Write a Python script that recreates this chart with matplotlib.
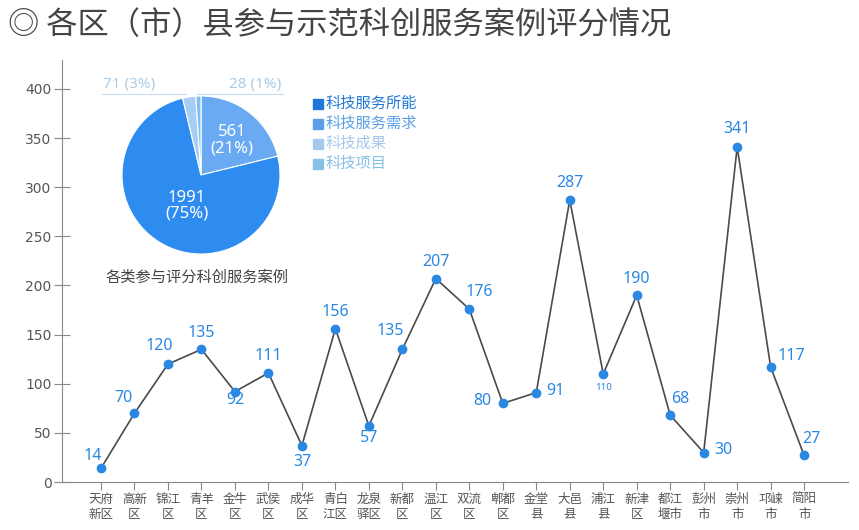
import matplotlib
matplotlib.use("Agg")
import matplotlib.pyplot as plt
import numpy as np

plt.rcParams['font.family'] = ['Noto Sans CJK SC', 'DejaVu Sans']

# 各区（市）县评分
districts = ["天府\n新区", "高新\n区", "锦江\n区", "青羊\n区", "金牛\n区", "武侯\n区",
             "成华\n区", "青白\n江区", "龙泉\n驿区", "新都\n区", "温江\n区", "双流\n区",
             "郫都\n区", "金堂\n县", "大邑\n县", "浦江\n县", "新津\n区", "都江\n堰市",
             "彭州\n市", "崇州\n市", "邛崃\n市", "简阳\n市"]
scores = [14, 70, 120, 135, 92, 111, 37, 156, 57, 135, 207, 176,
          80, 91, 287, 110, 190, 68, 30, 341, 117, 27]

# 饼图数据
case_types = ["科技服务所能", "科技服务需求", "科技成果", "科技项目"]
case_counts = [1991, 561, 71, 28]
case_pct = ["75%", "21%", "3%", "1%"]

# 标签偏移 (points)
label_off = [(-6, 9), (-8, 11), (-6, 13), (0, 12), (0, -6), (0, 12), (0, -12), (0, 12),
             (0, -9), (-9, 13), (0, 12), (7, 12), (-15, 2), (14, 1), (0, 12), (0, -10),
             (0, 12), (7, 12), (14, 2), (0, 13), (15, 8), (5, 12)]

W, H = 859, 530
fig = plt.figure(figsize=(W / 100, H / 100), dpi=100)

blue = "#2a88e2"
gray = "#555555"
numfont = ['Noto Sans', 'Noto Sans CJK SC']

# 主图
ax = fig.add_axes([62 / W, (H - 482) / H, (848 - 62) / W, (482 - 60) / H])
x = np.arange(len(districts))
ax.plot(x, scores, color="#4a4a4a", lw=1.2, zorder=2)
ax.plot(x, scores, "o", color=blue, ms=6, zorder=3)
for i, (v, off) in enumerate(zip(scores, label_off)):
    fs = 7 if v == 110 else 11.5
    ax.annotate(str(v), (i, v), xytext=off, textcoords="offset points",
                ha="center", va="center", color=blue, fontsize=fs, family=numfont)

ax.set_xlim(-1.165, 22.31)
ax.set_ylim(0, 429.5)
ax.set_yticks(range(0, 401, 50))
ax.set_xticks(x)
ax.set_xticklabels(districts, fontsize=9, color=gray, linespacing=1.15)
for t in ax.get_yticklabels():
    t.set_family('DejaVu Sans')
for s in ["top", "right"]:
    ax.spines[s].set_visible(False)
for s in ["left", "bottom"]:
    ax.spines[s].set_color("#888888")
ax.tick_params(axis="y", direction="inout", length=11, colors="#888888",
               labelcolor=gray, labelsize=10, pad=2)
ax.tick_params(axis="x", direction="out", length=6, colors="#888888",
               labelcolor=gray, pad=2)

# 饼图
cx, cy, r = 201, 175, 79
pax = fig.add_axes([(cx - r) / W, (H - cy - r) / H, 2 * r / W, 2 * r / H])
pie_colors = ["#2e8cf0", "#6aaaf2", "#a8cdf2", "#7cc0ec"]
order = [1, 0, 2, 3]
wedges, _ = pax.pie([case_counts[k] for k in order], colors=[pie_colors[k] for k in order],
                    startangle=90, counterclock=False,
                    wedgeprops=dict(edgecolor="white", linewidth=0.8))
pax.set_xlim(-1, 1)
pax.set_ylim(-1, 1)
pax.set_aspect("equal")

pax.text(0.39, 0.44, f"{case_counts[1]}\n({case_pct[1]})", ha="center", va="center",
         color="white", fontsize=12, linespacing=1.0, family=numfont)
pax.text(-0.18, -0.39, f"{case_counts[0]}\n({case_pct[0]})", ha="center", va="center",
         color="white", fontsize=12, linespacing=1.0, family=numfont)
light = "#a9cbe6"
pax.text(-0.91, 1.15, f"{case_counts[2]} ({case_pct[2]})", ha="center", va="center",
         color=light, fontsize=11, clip_on=False, family=numfont)
pax.text(0.68, 1.15, f"{case_counts[3]} ({case_pct[3]})", ha="center", va="center",
         color=light, fontsize=11, clip_on=False, family=numfont)
pax.plot([-1.25, -0.19], [1.03, 1.03], color="#c8dcee", lw=0.8, clip_on=False)
pax.plot([-0.05, 1.04], [1.03, 1.03], color="#c8dcee", lw=0.8, clip_on=False)

fig.text(197 / W, 1 - 277 / H, "各类参与评分科创服务案例", ha="center", va="center",
         color="#444444", fontsize=11)

# 图例
leg_colors = ["#1f78d8", "#5a9fe8", "#a5c8ec", "#86c0e6"]
for k, (name, c) in enumerate(zip(case_types, leg_colors)):
    yy = 1 - (103 + 20 * k) / H
    fig.patches.append(plt.Rectangle((313 / W, yy - 5.5 / H), 10 / W, 10 / H,
                                     transform=fig.transFigure, color=c))
    fig.text(326 / W, yy, name, ha="left", va="center", color=c, fontsize=11)

# 标题
fig.text(8 / W, 1 - 25 / H, "◎ 各区（市）县参与示范科创服务案例评分情况", ha="left", va="center",
         color="#444444", fontsize=22.5)

fig.savefig("out.png", dpi=100, facecolor="white")
